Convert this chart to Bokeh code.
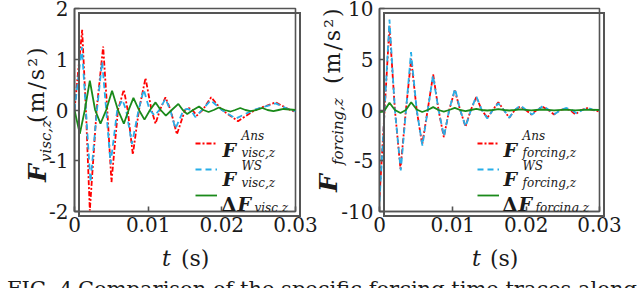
from bokeh.plotting import figure
from bokeh.models import (Range1d, FixedTicker, Label, Legend, LegendItem, Div,
                          ColumnDataSource)
from bokeh.models import glyphs as bk_glyphs
from bokeh.layouts import row, column
from bokeh.embed import file_html
from bokeh.resources import INLINE

# ---------------- data (time in s) ----------------
x_ticks = [0, 0.01, 0.02, 0.03]
x_tick_labels = ["0", "0.01", "0.02", "0.03"]
visc_y_ticks = [-2, -1, 0, 1, 2]
visc_y_tick_labels = ["-2", "-1", "0", "1", "2"]
forc_y_ticks = [-10, -5, 0, 5, 10]
forc_y_tick_labels = ["-10", "-5", "0", "5", "10"]

visc_ans_t = [0, 0.00104, 0.00155, 0.00208, 0.0030, 0.00389, 0.00445, 0.00502, 0.0059, 0.0067,
              0.00722, 0.00792, 0.00875, 0.00964, 0.01045, 0.0110, 0.0116, 0.01235, 0.01305,
              0.0139, 0.0150, 0.0155, 0.0160, 0.0166, 0.0174, 0.01855, 0.0200, 0.0222, 0.0245,
              0.0273, 0.0293, 0.030]
visc_ans = [0, 1.58, 0, -1.98, 0, 1.25, 0, -1.42, 0, 0.40,
            0, -0.88, 0, 0.63, 0, -0.27, 0, 0.25, 0,
            -0.48, 0, 0.04, 0, -0.11, 0, 0.25, 0, -0.22, 0,
            0.15, 0, -0.04]

visc_ws_t = [0, 0.0010, 0.00155, 0.00217, 0.00305, 0.00375, 0.0043, 0.0049, 0.0058, 0.0065,
             0.0070, 0.0078, 0.0087, 0.0094, 0.0102, 0.0109, 0.0115, 0.01235, 0.0130,
             0.0137, 0.0148, 0.0153, 0.0158, 0.0164, 0.0173, 0.0185, 0.0200, 0.0219, 0.0243,
             0.0273, 0.0293, 0.030]
visc_ws = [0, 1.24, 0, -1.42, 0, 0.95, 0, -1.06, 0, 0.20,
           0, -0.67, 0, 0.40, 0, -0.11, 0, 0.22, 0,
           -0.37, 0, 0.02, 0, -0.14, 0, 0.19, 0, -0.17, 0,
           0.13, 0, -0.02]

visc_d_t = [0, 0.00072, 0.0014, 0.00208, 0.0028, 0.00353, 0.0043, 0.0051, 0.0059, 0.0067,
            0.00735, 0.0080, 0.00875, 0.0095, 0.01025, 0.0110, 0.0117, 0.0124, 0.0132,
            0.0141, 0.0147, 0.0153, 0.0161, 0.0169, 0.0175, 0.0182, 0.0189, 0.0196, 0.0204,
            0.0212, 0.0218, 0.0225, 0.0232, 0.0239, 0.0247, 0.0255, 0.0262, 0.0270, 0.0277,
            0.0284, 0.030]
visc_d = [0, -0.47, 0, 0.58, 0, -0.27, 0, 0.38, 0, -0.27,
          0, 0.24, 0, -0.19, 0, 0.15, 0, -0.11, 0,
          0.12, 0, -0.08, 0, 0.07, 0, -0.04, 0, 0.05, 0,
          -0.03, 0, 0.04, 0, -0.02, 0, 0.04, 0, -0.02, 0,
          0.02, 0]

forc_ans_t = [0, 0.0007, 0.00136, 0.0021, 0.00286, 0.0036, 0.00432, 0.00507, 0.00582, 0.00657,
              0.00732, 0.00805, 0.00877, 0.0095, 0.01027, 0.0110, 0.01173, 0.01245, 0.0132,
              0.01395, 0.0147, 0.01545, 0.0162, 0.01695, 0.0177, 0.01845, 0.0192, 0.01995,
              0.0207, 0.02145, 0.0222, 0.0230, 0.0238, 0.0246, 0.0254, 0.0260, 0.0267,
              0.0275, 0.0283, 0.0291, 0.030]
forc_ans = [-8.6, 0, 8.3, 0, -5.8, 0, 5.04, 0, -3.4, 0,
            3.5, 0, -2.68, 0, 1.92, 0, -1.63, 0, 1.26,
            0, -0.77, 0, 0.77, 0, -0.77, 0, 0.34, 0,
            -0.44, 0, 0.34, 0, -0.44, 0, 0.11, 0, -0.44,
            0, 0.18, 0, -0.15]

forc_ws_t = [0, 0.0007, 0.00136, 0.0021, 0.0029, 0.00362, 0.0043, 0.00507, 0.00585, 0.00658,
             0.0073, 0.00805, 0.0088, 0.0095, 0.0103, 0.0110, 0.01175, 0.01247, 0.0132,
             0.01395, 0.0147, 0.01545, 0.0162, 0.01695, 0.0177, 0.01845, 0.0192, 0.0200,
             0.0208, 0.02155, 0.0223, 0.0231, 0.0239, 0.0247, 0.0255, 0.0262, 0.0269,
             0.02765, 0.0284, 0.0292, 0.030]
forc_ws = [-9.0, 0, 8.9, 0, -5.95, 0, 5.7, 0, -3.5, 0,
           3.4, 0, -2.6, 0, 2.1, 0, -1.65, 0, 1.35,
           0, -0.85, 0, 0.65, 0, -0.75, 0, 0.45, 0,
           -0.45, 0, 0.40, 0, -0.40, 0, 0.20, 0, -0.35,
           0, 0.20, 0, -0.10]

forc_d_t = [0, 0.0006, 0.00136, 0.0021, 0.00286, 0.0036, 0.00432, 0.00507, 0.00582, 0.00657,
            0.00732, 0.00805, 0.00877, 0.0095, 0.01027, 0.0110, 0.01173, 0.01245, 0.0132,
            0.01395, 0.0147, 0.01545, 0.0162, 0.0170, 0.0177, 0.01845, 0.0192, 0.0207,
            0.0222, 0.0238, 0.0254, 0.0267, 0.0283, 0.030]
forc_d = [-0.2, -0.15, 0.72, 0, -0.3, 0, 0.77, 0.05, -0.2, 0,
          0.28, 0, -0.15, 0, 0.21, 0, -0.1, 0, 0.1,
          0, -0.05, 0, 0.08, 0, -0.05, 0, 0.06, -0.04,
          0.05, -0.03, 0.04, -0.03, 0.04, 0]

legend_sup = ["Ans", "WS"]
caption_text = "Comparison of the specific forcing time traces along"

RED = "#ff0000"
BLUE = "#27aee8"
GREEN = "#1a8a1a"
FRAME = "#555555"
TXT = "#1a1a1a"
FONT = "DejaVu Serif"
FIG_H = 272
LW = 1.6
SPLINE = getattr(bk_glyphs, "Spline", None)


def make_fig(L, R, T, B, total_w, total_h, y_lo, y_hi, yt, ytl):
    p = figure(width=total_w, height=total_h, output_backend="svg", toolbar_location=None,
               x_range=Range1d(0, 0.03), y_range=Range1d(y_lo, y_hi),
               min_border_left=L, min_border_right=total_w - R,
               min_border_top=T, min_border_bottom=total_h - B)
    p.xgrid.visible = False
    p.ygrid.visible = False
    p.outline_line_color = FRAME
    p.outline_line_width = LW
    for ax, ticks, labels in ((p.xaxis[0], x_ticks, x_tick_labels), (p.yaxis[0], yt, ytl)):
        ax.ticker = FixedTicker(ticks=ticks)
        ax.major_label_overrides = {t: l for t, l in zip(ticks, labels)}
        ax.minor_tick_line_color = None
        ax.major_tick_in = 5
        ax.major_tick_out = 0
        ax.major_tick_line_color = FRAME
        ax.major_tick_line_width = LW
        ax.axis_line_color = FRAME
        ax.axis_line_width = LW
        ax.major_label_text_font = FONT
        ax.major_label_text_font_size = "20px"
        ax.major_label_text_color = TXT
    p.xaxis[0].major_label_standoff = 5
    p.yaxis[0].major_label_standoff = 6
    return p


def adder(p, L, R, T, B, y_lo, y_hi):
    def add(px, py, text, size, style="normal"):
        x = 0.0 + (px - L) / (R - L) * 0.03
        y = y_hi - (py - T) / (B - T) * (y_hi - y_lo)
        p.add_layout(Label(x=x, y=y, text=text, text_font=FONT, text_font_size=f"{size}px",
                           text_font_style=style, text_align="left",
                           text_baseline="alphabetic", text_color=TXT))
    return add


def build(L, R, T, B, y_lo, y_hi, yt, ytl, series, leg_x, shift):
    p = make_fig(L - shift, R - shift, T, B, 320, FIG_H, y_lo, y_hi, yt, ytl)
    rends = []
    for t, v, c, d in series:
        src = ColumnDataSource(dict(x=t, y=v))
        style = dict(line_color=c, line_width=1.8, line_dash=d)
        if SPLINE is not None:
            p.add_glyph(src, SPLINE(x="x", y="y", **style))
            rends.append(p.line(x="x", y="y", source=src, visible=False, **style))
        else:
            rends.append(p.line(x="x", y="y", source=src, **style))
    legend = Legend(items=[LegendItem(label=" ", renderers=[r]) for r in rends],
                    location=(leg_x - L, 9), orientation="vertical",
                    glyph_width=22, glyph_height=14, label_height=14, label_width=1,
                    label_standoff=0, spacing=12, padding=0, margin=0,
                    border_line_alpha=0, background_fill_alpha=0,
                    label_text_font_size="1px")
    p.add_layout(legend)
    return p, adder(p, L, R, T, B, y_lo, y_hi)


p1, a1 = build(74, 295, 8, 211, -2, 2, visc_y_ticks, visc_y_tick_labels,
               [(visc_ans_t, visc_ans, RED, "5 2 2 2"),
                (visc_ws_t, visc_ws, BLUE, "6 4"),
                (visc_d_t, visc_d, GREEN, "solid")], 195, 0)
p2, a2 = build(379, 599, 8, 211, -10, 10, forc_y_ticks, forc_y_tick_labels,
               [(forc_ans_t, forc_ans, RED, "5 2 2 2"),
                (forc_ws_t, forc_ws, BLUE, "6 4"),
                (forc_d_t, forc_d, GREEN, "solid")], 477, 320)

# legend texts (inside the frames)
for add, x0, sub in ((a1, 222, "visc,z"), (a2, 503, "forcing,z")):
    add(x0, 149, "F", 19, "bold italic")
    add(x0 + 19, 135, legend_sup[0], 12, "italic")
    add(x0 + 19, 152, sub, 12, "italic")
    add(x0, 178, "F", 19, "bold italic")
    add(x0 + 19, 165, legend_sup[1], 12, "italic")
    add(x0 + 19, 182, sub, 12, "italic")
    add(x0 - 1, 203, "\u0394", 19, "bold")
    add(x0 + 15, 203, "F", 19, "bold italic")
    add(x0 + 32, 207, sub, 12, "italic")

# ---- axis titles and plot boxes as HTML laid over the figures ----
ASC = 0.846  # baseline position inside a line box of line-height 1


def span(px, py, text, size, style="normal", weight="normal", rotated=False, ls=0):
    left = px - ASC * size if rotated else px
    top = py - FIG_H if rotated else py - ASC * size - FIG_H
    rot = "transform-origin:0 0;transform:rotate(-90deg);" if rotated else ""
    return (f'<span style="position:absolute;left:{left:.1f}px;top:{top:.1f}px;{rot}'
            f'font-family:\'{FONT}\';font-size:{size}px;line-height:1;font-style:{style};'
            f'font-weight:{weight};letter-spacing:{ls}px;white-space:nowrap;'
            f'color:{TXT}">{text}</span>')


def box(L, T, R, B):
    return (f'<span style="position:absolute;display:block;box-sizing:border-box;'
            f'left:{L - 1}px;top:{T - 1 - FIG_H}px;width:{R - L + 2}px;'
            f'height:{B - T + 2}px;max-height:{B - T + 2}px;overflow:hidden;'
            f'line-height:0;font-size:0;border:2px solid {FRAME}"></span>')


parts = [
    box(74, 8, 295, 211),
    box(379, 8, 599, 211),
    span(41, 177, "F", 25, "italic", "bold", True),
    span(47, 157, "visc,z", 15, "italic", "normal", True),
    span(40, 118, "(m/s\u00b2)", 22, "normal", "normal", True, 2),
    span(332, 187, "F", 25, "italic", "bold", True),
    span(339, 160, "forcing,z", 15, "italic", "normal", True),
    span(336, 79, "(m/s\u00b2)", 22, "normal", "normal", True, 2),
    span(157, 262, "t", 22, "italic"),
    span(176, 262, "(s)", 22),
    span(467, 262, "t", 22, "italic"),
    span(485, 262, "(s)", 22),
]

cap_html = (f'<div style="position:relative;width:640px;height:16px">'
            + "".join(parts)
            + f'<div style="font-family:\'{FONT}\';font-size:21px;line-height:21px;'
              f'white-space:nowrap;padding-top:2px;color:{TXT}">'
              f'<span style="display:inline-block;width:73px;padding-left:2px">FIG. 4.</span>'
              f'{caption_text}</div></div>')
cap = Div(text=cap_html, width=640, height=16, styles={"overflow": "visible"})

layout = column(row(p1, p2), cap)
open("out.html", "w").write(file_html(layout, INLINE))
